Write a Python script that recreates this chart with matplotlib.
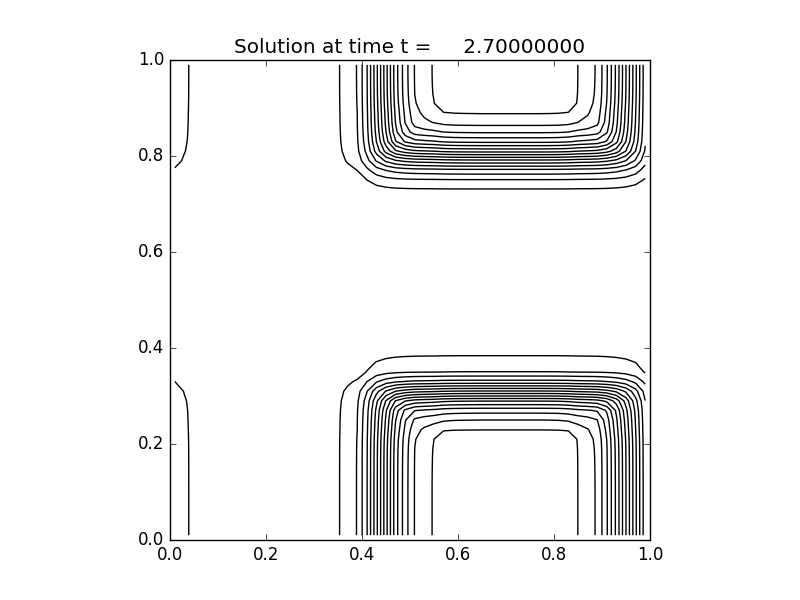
import numpy as np
import matplotlib
matplotlib.use("Agg")
import matplotlib.pyplot as plt

plt.style.use('classic')

# cell-centre coordinates of the 50x50 grid
x_centers = [0.01 + 0.02 * i for i in range(50)]
y_centers = [0.01 + 0.02 * j for j in range(50)]

# profile of the solution along x
f_profile = [0.14, 0.11, 0.088, 0.075, 0.066, 0.06,
             0.055, 0.052, 0.05, 0.048, 0.047, 0.047, 0.048, 0.05, 0.054, 0.06, 0.072,
             0.095, 0.125, 0.152, 0.245, 0.386, 0.533, 0.678, 0.779, 0.853, 0.88, 0.905,
             0.955, 0.98, 0.99, 0.995, 1.0, 1.0, 1.0, 1.0, 1.0, 1.0, 1.0,
             0.995, 0.985, 0.955, 0.899, 0.874, 0.843, 0.756, 0.637, 0.50, 0.36, 0.22]

# profile of the solution along y
g_profile = [1.0, 1.0, 1.0, 1.0, 1.0, 1.0, 0.998, 0.995, 0.99, 0.98,
             0.955, 0.898, 0.85, 0.78, 0.646, 0.454, 0.267, 0.151, 0.121, 0.091,
             0.07, 0.055, 0.045, 0.04, 0.036, 0.033, 0.031, 0.03, 0.03, 0.031,
             0.033, 0.036, 0.04, 0.046, 0.055, 0.07, 0.0967, 0.1467, 0.234, 0.385,
             0.565, 0.712, 0.807, 0.87, 0.903, 0.95, 0.98, 0.993, 1.0, 1.0]

contour_levels = [0.10, 0.15, 0.20, 0.25, 0.30, 0.35, 0.40, 0.45, 0.50,
                  0.55, 0.60, 0.65, 0.70, 0.75, 0.80, 0.85, 0.90]

time_value = 2.7
corner_exponent = 6.0

X, Y = np.meshgrid(x_centers, y_centers)
F, G = np.meshgrid(np.array(f_profile), np.array(g_profile))
# combine the two profiles into the 2-D field:
# wide rounded corners at low values, tighter corners at high values
Q_soft = 1.0 / (1.0 / F + 1.0 / G - 1.0)
Q_sharp = 1.0 - ((1.0 - F) ** corner_exponent + (1.0 - G) ** corner_exponent) ** (1.0 / corner_exponent)
Q_sharp = np.clip(Q_sharp, 1e-6, 1.0)
w = 1.0 - Q_soft
Q = Q_soft ** w * Q_sharp ** (1.0 - w)

fig = plt.figure(figsize=(8, 6), dpi=100)
ax = fig.add_subplot(111)
ax.contour(X, Y, Q, levels=contour_levels, colors='k', linewidths=1.0,
           linestyles='solid')
ax.set_xlim(0, 1)
ax.set_ylim(0, 1)
ax.set_aspect('equal')
ax.set_title('Solution at time t = %14.8f' % time_value)
fig.savefig('out.png', dpi=100)
